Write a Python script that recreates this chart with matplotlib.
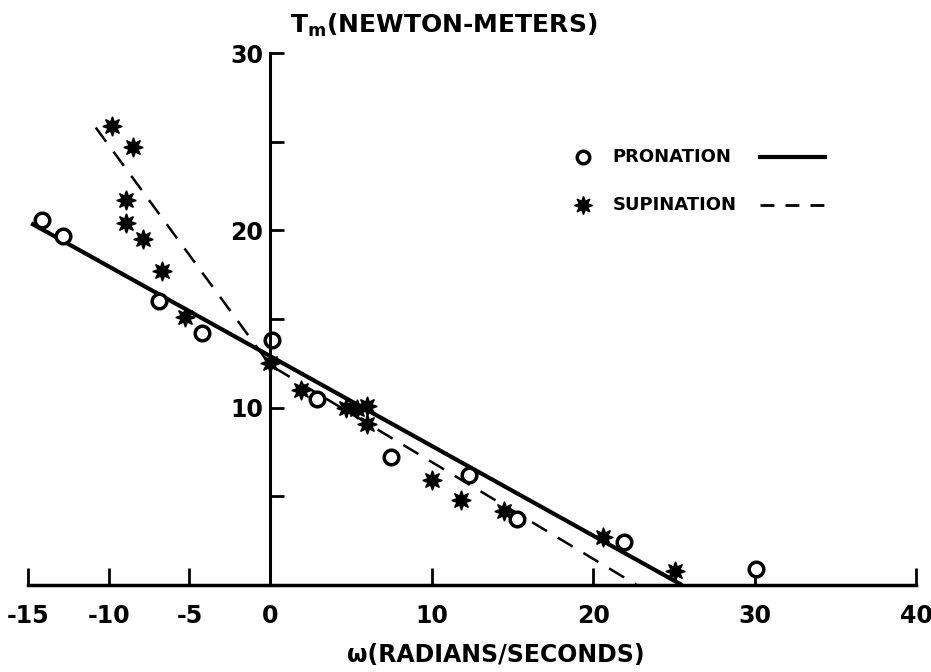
import numpy as np
import matplotlib
matplotlib.use("Agg")
import matplotlib.pyplot as plt
from matplotlib.lines import Line2D

# pronation (open circles)
pro_w = [-14.1, -12.8, -6.9, -4.2, 0.1, 2.9, 7.5, 12.3, 15.3, 21.9, 30.1]
pro_t = [20.6, 19.7, 16.0, 14.2, 13.8, 10.5, 7.2, 6.2, 3.7, 2.4, 0.9]

# supination (stars)
sup_w = [-9.8, -8.5, -8.9, -8.9, -7.9, -6.7, -5.3, 0.0, 1.9, 4.7, 5.4, 6.0, 6.0,
         10.0, 11.8, 14.5, 20.6, 25.1]
sup_t = [25.9, 24.7, 21.7, 20.4, 19.5, 17.7, 15.1, 12.5, 11.0, 10.0, 9.9, 10.1, 9.1,
         5.9, 4.8, 4.2, 2.7, 0.8]

# fitted lines
pro_fit_w = [-14.8, 25.5]
pro_fit_t = [20.4, 0.0]
sup_fit_w = [-10.8, 0.0, 22.7]
sup_fit_t = [25.8, 12.4, 0.0]

x_ticks = [-15, -10, -5, 0, 10, 20, 30, 40]
y_ticks = [5, 10, 15, 20, 25, 30]
y_labels = ['', '10', '', '20', '', '30']

plt.rcParams['font.family'] = ['DejaVu Sans']
plt.rcParams['font.weight'] = 'bold'

fig = plt.figure(figsize=(9.31, 6.72), dpi=100)
ax = fig.add_axes([0.030, 0.1295, 0.954, 0.7915])
ax.set_xlim(-15, 40)
ax.set_ylim(0, 30)

ax.plot(pro_fit_w, pro_fit_t, color='black', lw=3.0, solid_capstyle='butt')
ax.plot(sup_fit_w, sup_fit_t, color='black', lw=1.8, dashes=(7, 5))
ax.plot(pro_w, pro_t, 'o', ms=10.5, mfc='white', mec='black', mew=2.5, clip_on=False)
ax.plot(sup_w, sup_t, marker=(8, 1, 0), ls='none', ms=14, color='black', clip_on=False)

for s in ['top', 'right']:
    ax.spines[s].set_visible(False)
ax.spines['left'].set_position(('data', 0))
ax.spines['left'].set_linewidth(2.2)
ax.spines['bottom'].set_linewidth(2.5)

ax.set_xticks(x_ticks)
ax.set_xticklabels([str(v) for v in x_ticks])
ax.set_yticks(y_ticks)
ax.set_yticklabels(y_labels)
ax.tick_params(axis='x', direction='in', length=12, width=2, pad=14, labelsize=17)
ax.tick_params(axis='y', direction='in', length=10, width=2, pad=5, labelsize=17)

ax.text(1.2, 31.55, r'T$_\mathregular{m}$(NEWTON-METERS)', fontsize=18, fontweight='bold',
        ha='left', va='center')
ax.text(14.0, -3.95, 'ω(RADIANS/SECONDS)', fontsize=17, fontweight='bold',
        ha='center', va='center')

# legend
ax.add_line(Line2D([0.625], [0.805], transform=ax.transAxes, marker='o', ms=9,
                   mfc='white', mec='black', mew=2.5))
ax.add_line(Line2D([0.625], [0.714], transform=ax.transAxes, marker=(8, 1, 0), ms=13,
                   color='black', ls='none'))
ax.text(0.658, 0.805, 'PRONATION', transform=ax.transAxes, fontsize=13,
        fontweight='bold', va='center')
ax.text(0.658, 0.714, 'SUPINATION', transform=ax.transAxes, fontsize=13,
        fontweight='bold', va='center')
ax.add_line(Line2D([0.824, 0.8975], [0.805, 0.805], transform=ax.transAxes,
                   color='black', lw=3))
ax.add_line(Line2D([0.824, 0.8975], [0.714, 0.714], transform=ax.transAxes,
                   color='black', lw=2, dashes=(5, 4)))

fig.savefig('out.png', dpi=100)
